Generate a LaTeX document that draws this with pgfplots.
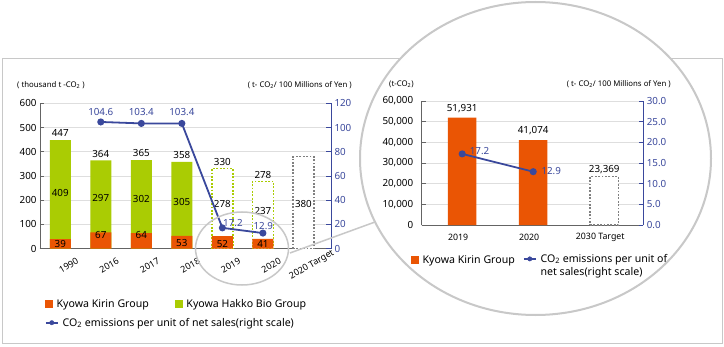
\documentclass[border=0pt]{standalone}
\usepackage{fontspec}
\setmainfont{Noto Sans}
\usepackage{pgfplots}
\pgfplotsset{compat=1.18}
\definecolor{kko}{RGB}{234,85,4}
\definecolor{khb}{RGB}{170,204,3}
\definecolor{cob}{RGB}{58,72,156}
\definecolor{gridc}{RGB}{222,222,222}
\definecolor{axc}{RGB}{100,100,100}
\definecolor{circ}{RGB}{200,200,200}
\definecolor{tgtc}{RGB}{128,128,128}
\newcommand{\tfont}{\fontsize{9.8}{11}\selectfont}
\newcommand{\lfont}{\fontsize{10.6}{13.3}\selectfont}
\newcommand{\ufont}{\fontsize{7.8}{9}\selectfont}
\pgfplotsset{
  lblplot/.style={forget plot, draw=none, mark=none, nodes near coords, point meta=explicit symbolic,
    every node near coord/.append style={anchor=center, font=\tfont, text=#1, inner sep=0pt}},
  sqleg/.style={legend image code/.code={\fill[#1] (0pt,-3.6pt) rectangle (7.2pt,3.6pt);}},
  lnleg/.style={legend image code/.code={\draw[cob, line width=1.6pt] (0pt,#1) -- (12pt,#1); \fill[cob] (6pt,#1) circle (2.2pt);}},
  baseax/.style={scale only axis, anchor=south west,
    /pgf/number format/assume math mode=true,
    tick label style={font=\tfont},
    legend style={draw=none, fill=none, inner sep=0pt, outer sep=0pt, font=\lfont,
      /tikz/every odd column/.append style={column sep=2pt},
      /tikz/every even column/.append style={column sep=24pt}},
    legend cell align=left},
}
\begin{document}
\begin{tikzpicture}
\useasboundingbox (0,0) rectangle (724pt,346pt);
\fill[white] (0,0) rectangle (724pt,346pt);
\draw[circ, line width=1pt] (2pt,3pt) rectangle (722pt,287pt);
\draw[circ, line width=2pt, fill=white] (535.5pt,187.5pt) ellipse [x radius=175.5pt, y radius=156.5pt];

% ---------- left chart, left scale ----------
\begin{axis}[baseax,
  at={(40pt,97.3pt)}, width=291pt, height=145.4pt,
  xmin=-0.5, xmax=6.68, ymin=0, ymax=600,
  axis x line*=bottom, axis y line*=left,
  axis line style={axc, line width=0.8pt},
  xtick={0,...,6}, xticklabels={1990,2016,2017,2018,2019,2020,2020 Target},
  xticklabel style={rotate=30, anchor=center, yshift=-18.5pt, xshift=-1pt, font=\fontsize{9}{10}\selectfont},
  major x tick style={draw=none},
  ytick={0,100,...,600},
  ymajorgrids, grid style={gridc, line width=0.8pt},
  tick align=inside, major tick length=4pt,
  major y tick style={axc, line width=0.8pt},
  legend columns=2,
  legend style={at={(0.0172,-0.380)}, anchor=west},
]
\addlegendimage{sqleg=kko}\addlegendentry{Kyowa Kirin Group}
\addlegendimage{sqleg=khb}\addlegendentry{Kyowa Hakko Bio Group}
\addplot[forget plot, ybar, bar shift=0pt, bar width=21pt, fill=khb, draw=none]
  coordinates {(0,448)(1,364)(2,366)(3,358)};
\addplot[forget plot, ybar, bar shift=0pt, bar width=21pt, fill=white, draw=khb, line width=1.5pt, dash pattern=on 1.8pt off 1.6pt]
  coordinates {(4,330)(5,278)};
\addplot[forget plot, ybar, bar shift=0pt, bar width=21pt, fill=white, draw=tgtc, line width=1.5pt, dash pattern=on 1.8pt off 1.6pt]
  coordinates {(6,380)};
\addplot[forget plot, ybar, bar shift=0pt, bar width=21pt, fill=kko, draw=none]
  coordinates {(0,39)(1,67)(2,64)(3,53)(4,52)(5,41)};
\addplot[lblplot=black] coordinates {(0,19)[39] (1,56)[67] (2,56)[64] (3,23)[53] (4,19)[52] (5,19)[41]};
\addplot[lblplot=black] coordinates {(0,229)[409] (1,210)[297] (2,205)[302] (3,191)[305] (4,184)[278] (5,157)[237] (6,183)[380]};
\addplot[lblplot=black] coordinates {(0,476)[447] (1,392)[364] (2,394)[365] (3,386)[358] (4,358)[330] (5,306)[278]};
\end{axis}

% ---------- left chart, right scale ----------
\begin{axis}[baseax,
  at={(40pt,97.3pt)}, width=291pt, height=145.4pt,
  xmin=-0.5, xmax=6.68, ymin=0, ymax=120,
  axis x line=none, axis y line*=right,
  axis line style={cob, line width=1pt},
  ytick={0,20,...,120},
  tick align=inside, major tick length=5pt,
  major y tick style={cob, line width=1pt},
  yticklabel style={text=cob},
  legend style={at={(0.0172,-0.509)}, anchor=west},
]
\addlegendimage{lnleg=0pt}\addlegendentry{CO\textsubscript{2} emissions per unit of net sales(right scale)}
\addplot[forget plot, cob, line width=1.8pt, mark=*, mark size=2.6pt]
  coordinates {(1,104.6)(2,103.4)(3,103.4)(4,17.2)(5,12.9)};
\addplot[lblplot=cob] coordinates {(1,113)[104.6] (2,113)[103.4] (3,113)[103.4] (4.26,21)[17.2] (5.01,19)[12.9]};
\end{axis}

\draw[circ, line width=1.5pt] (242pt,97.5pt) ellipse [x radius=46.5pt, y radius=36.5pt];
\draw[circ, line width=1.5pt] (290pt,93pt) -- (375pt,124pt);

% ---------- right chart, left scale ----------
\begin{axis}[baseax,
  at={(421.7pt,121pt)}, width=221.6pt, height=124pt,
  xmin=-0.57, xmax=2.55, ymin=0, ymax=60000,
  axis x line*=bottom, axis y line*=left,
  axis line style={axc, line width=0.8pt},
  xtick={0,1,2}, xticklabels={2019,2020,2030 Target},
  xticklabel style={anchor=center, yshift=-12.7pt, xshift=-4pt, font=\fontsize{8.8}{10}\selectfont},
  major x tick style={draw=none},
  ytick={0,10000,...,60000}, scaled y ticks=false,
  yticklabel style={/pgf/number format/1000 sep={,}, xshift=-5pt},
  ymajorgrids, grid style={gridc, line width=0.8pt},
  tick align=inside, major tick length=4pt,
  major y tick style={axc, line width=0.8pt},
  legend style={at={(-0.0483,-0.282)}, anchor=west},
]
\addlegendimage{sqleg=kko}\addlegendentry{Kyowa Kirin Group}
\addplot[forget plot, ybar, bar shift=0pt, bar width=28.5pt, fill=kko, draw=none]
  coordinates {(0,51931)(1,41074)};
\addplot[forget plot, ybar, bar shift=0pt, bar width=28.5pt, fill=white, draw=tgtc, line width=1.5pt, dash pattern=on 1.8pt off 1.6pt]
  coordinates {(2,23369)};
\addplot[lblplot=black] coordinates {(0,56500)[{51,931}] (1,45600)[{41,074}] (2,26900)[{23,369}]};
\end{axis}

% ---------- right chart, right scale ----------
\begin{axis}[baseax,
  at={(421.7pt,121pt)}, width=221.6pt, height=124pt,
  xmin=-0.57, xmax=2.55, ymin=0, ymax=30,
  axis x line=none, axis y line*=right,
  axis line style={cob, line width=1pt},
  ytick={0,5,...,30},
  yticklabel style={text=cob, /pgf/number format/.cd, fixed, fixed zerofill, precision=1},
  tick align=inside, major tick length=4pt,
  major y tick style={cob, line width=1pt},
  legend style={at={(0.457,-0.218)}, anchor=north west},
]
\addlegendimage{lnleg=6.6pt}\addlegendentry[align=left]{CO\textsubscript{2} emissions per unit of\\net sales(right scale)}
\addplot[forget plot, cob, line width=1.8pt, mark=*, mark size=2.6pt]
  coordinates {(0,17.2)(1,12.9)};
\addplot[lblplot=cob] coordinates {(0.244,18)[17.2] (1.254,13.07)[12.9]};
\end{axis}

% unit captions
\node[anchor=west, font=\ufont, inner sep=0pt] at (17pt,261pt) {( thousand t -CO\textsubscript{2} )};
\node[anchor=east, font=\ufont, inner sep=0pt] at (352pt,261pt) {( t- CO\textsubscript{2}/ 100 Millions of Yen )};
\node[anchor=west, font=\ufont, inner sep=0pt] at (389pt,262pt) {(t-CO\textsubscript{2})};
\node[anchor=east, font=\ufont, inner sep=0pt] at (671pt,262pt) {( t- CO\textsubscript{2}/ 100 Millions of Yen )};
\end{tikzpicture}
\end{document}
